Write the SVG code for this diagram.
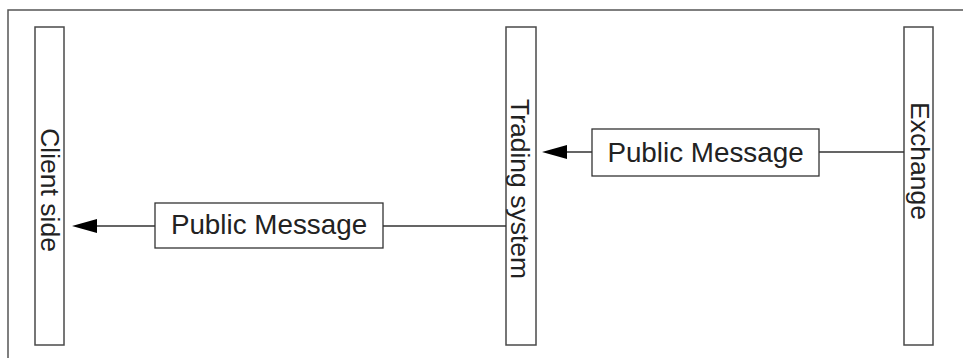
<svg xmlns="http://www.w3.org/2000/svg" width="963" height="358" viewBox="0 0 963 358">
<style>
.frame{fill:none;stroke:#555;stroke-width:1.5}
.life{fill:#fff;stroke:#4a4a4a;stroke-width:1.5}
.msg{fill:#fff;stroke:#333;stroke-width:1.3}
.conn{fill:none;stroke:#333;stroke-width:1.3}
.head{fill:#000}
text{font-family:"Liberation Sans",Arial,sans-serif;font-size:26.5px;fill:#222}
.mt{font-size:27.8px}
</style>
<rect width="963" height="358" fill="#fff"/>
<path class="frame" d="M8,358 V10 H963"/>
<g id="client">
<rect class="life" x="35" y="27" width="29" height="318"/>
<text transform="translate(41,190) rotate(90)" text-anchor="middle">Client side</text>
</g>
<g id="trading">
<rect class="life" x="506" y="27" width="30" height="318"/>
<text transform="translate(511,189) rotate(90)" text-anchor="middle">Trading system</text>
</g>
<g id="exchange">
<rect class="life" x="904" y="27" width="29" height="318"/>
<text transform="translate(911,161) rotate(90)" text-anchor="middle">Exchange</text>
</g>
<g id="connectors">
<path class="conn" d="M904,152 H819 M592,152 H565"/>
<polygon class="head" points="542,152 567,145 567,159"/>
<path class="conn" d="M506,226 H383 M155,226 H94"/>
<polygon class="head" points="72,226 97,219 97,233"/>
</g>
<g id="msg1">
<rect class="msg" x="592" y="129" width="227" height="47"/>
<text class="mt" x="705.5" y="162" text-anchor="middle">Public Message</text>
</g>
<g id="msg2">
<rect class="msg" x="155" y="203" width="228" height="45"/>
<text class="mt" x="269" y="234" text-anchor="middle">Public Message</text>
</g>
</svg>
